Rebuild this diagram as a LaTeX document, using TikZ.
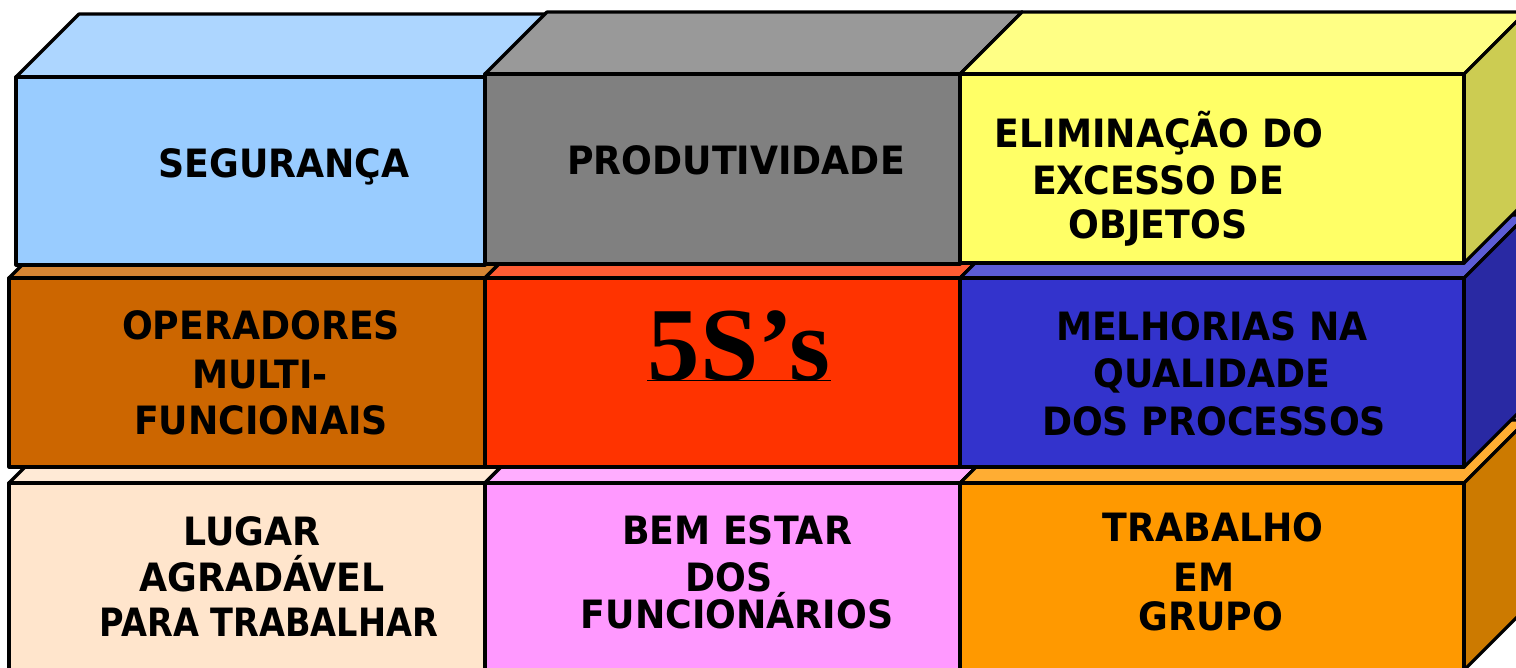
\documentclass[tikz,border=0pt]{standalone}
\usepackage{fontspec}
\newfontfamily\lblfont{DejaVu Sans}[FakeStretch=0.93]
\newfontfamily\lblnarrow{DejaVu Sans}[FakeStretch=0.86]
\newfontfamily\fivefont{Liberation Serif}
\definecolor{cblue}{HTML}{99CCFF}
\definecolor{cgray}{HTML}{808080}
\definecolor{cyellow}{HTML}{FFFF66}
\definecolor{cbrown}{HTML}{CC6600}
\definecolor{cred}{HTML}{FF3300}
\definecolor{cindigo}{HTML}{3333CC}
\definecolor{cpeach}{HTML}{FFE5CC}
\definecolor{cpink}{HTML}{FF99FF}
\definecolor{corange}{HTML}{FF9900}
\tikzset{
  edge/.style={draw=black, line width=3.2pt, line join=round},
  lbl/.style={font=\lblfont\bfseries\fontsize{39}{46}\selectfont, anchor=base, inner sep=0pt, text=black},
  lblnar/.style={lbl, font=\lblnarrow\bfseries\fontsize{39}{46}\selectfont},
  fivestyle/.style={font=\fivefont\bfseries\fontsize{105}{110}\selectfont, anchor=base, inner sep=0pt},
}
% #1 left x, #2 front top y, #3 right x, #4 bottom y, #5 depth, #6 colour
\newcommand\cuboid[6]{%
  \path[edge, fill=#6!80!white] (#1,#2) -- ++(#5,-#5) -- (#3+#5,#2-#5) -- (#3,#2) -- cycle;
  \path[edge, fill=#6!80!black] (#3,#2) -- ++(#5,-#5) -- (#3+#5,#4-#5) -- (#3,#4) -- cycle;
  \path[edge, fill=#6] (#1,#2) rectangle (#3,#4);
}
\begin{document}
\begin{tikzpicture}[x=1pt, y=-1pt]
\useasboundingbox (0,0) rectangle (1516,667);
\clip (0,0) rectangle (1516,667);
% bottom row
\cuboid{9}{483}{485}{670}{63}{cpeach}
\cuboid{485}{483}{960}{670}{63}{cpink}
\cuboid{960}{483}{1464}{670}{63}{corange}
% middle row
\cuboid{9}{278}{485}{467}{63}{cbrown}
\cuboid{485}{278}{960}{467}{63}{cred}
\cuboid{960}{278}{1464}{467}{63}{cindigo}
% top row
\cuboid{16}{77}{485}{265}{63}{cblue}
\cuboid{485}{74}{960}{264}{62}{cgray}
\cuboid{960}{74}{1464}{263}{62}{cyellow}
% top row labels
\node[lbl] (seg) at (284,177) {SEGURANÇA};
\node[lbl] (prod) at (736,174) {PRODUTIVIDADE};
\node[lbl] (elimA) at (1159,147) {ELIMINAÇÃO DO};
\node[lbl] (elimB) at (1158,194) {EXCESSO DE};
\node[lbl] (elimC) at (1158,238) {OBJETOS};
% middle row labels
\node[lbl] (opA) at (261,339) {OPERADORES};
\node[lbl] (opB) at (260,388) {MULTI-};
\node[lbl] (opC) at (261,434) {FUNCIONAIS};
\node[lbl] (melA) at (1212,340) {MELHORIAS NA};
\node[lbl] (melB) at (1212,387) {QUALIDADE};
\node[lbl] (melC) at (1214,435) {DOS PROCESSOS};
% 5S's
\node[fivestyle, text=black] (five) at (739,380) {5S’s};
\draw[line width=0.8pt] (five.base west) -- (five.base east);
% bottom row labels
\node[lbl] (lugA) at (252,545) {LUGAR};
\node[lbl] (lugB) at (262,591) {AGRADÁVEL};
\node[lblnar] (lugC) at (269,636) {PARA TRABALHAR};
\node[lbl] (bemA) at (737,544) {BEM ESTAR};
\node[lbl] (bemB) at (729,591) {DOS};
\node[lbl] (bemC) at (737,628) {FUNCIONÁRIOS};
\node[lbl] (trabA) at (1213,541) {TRABALHO};
\node[lbl] (trabB) at (1204,591) {EM};
\node[lbl] (trabC) at (1211,630) {GRUPO};
\end{tikzpicture}
\end{document}
